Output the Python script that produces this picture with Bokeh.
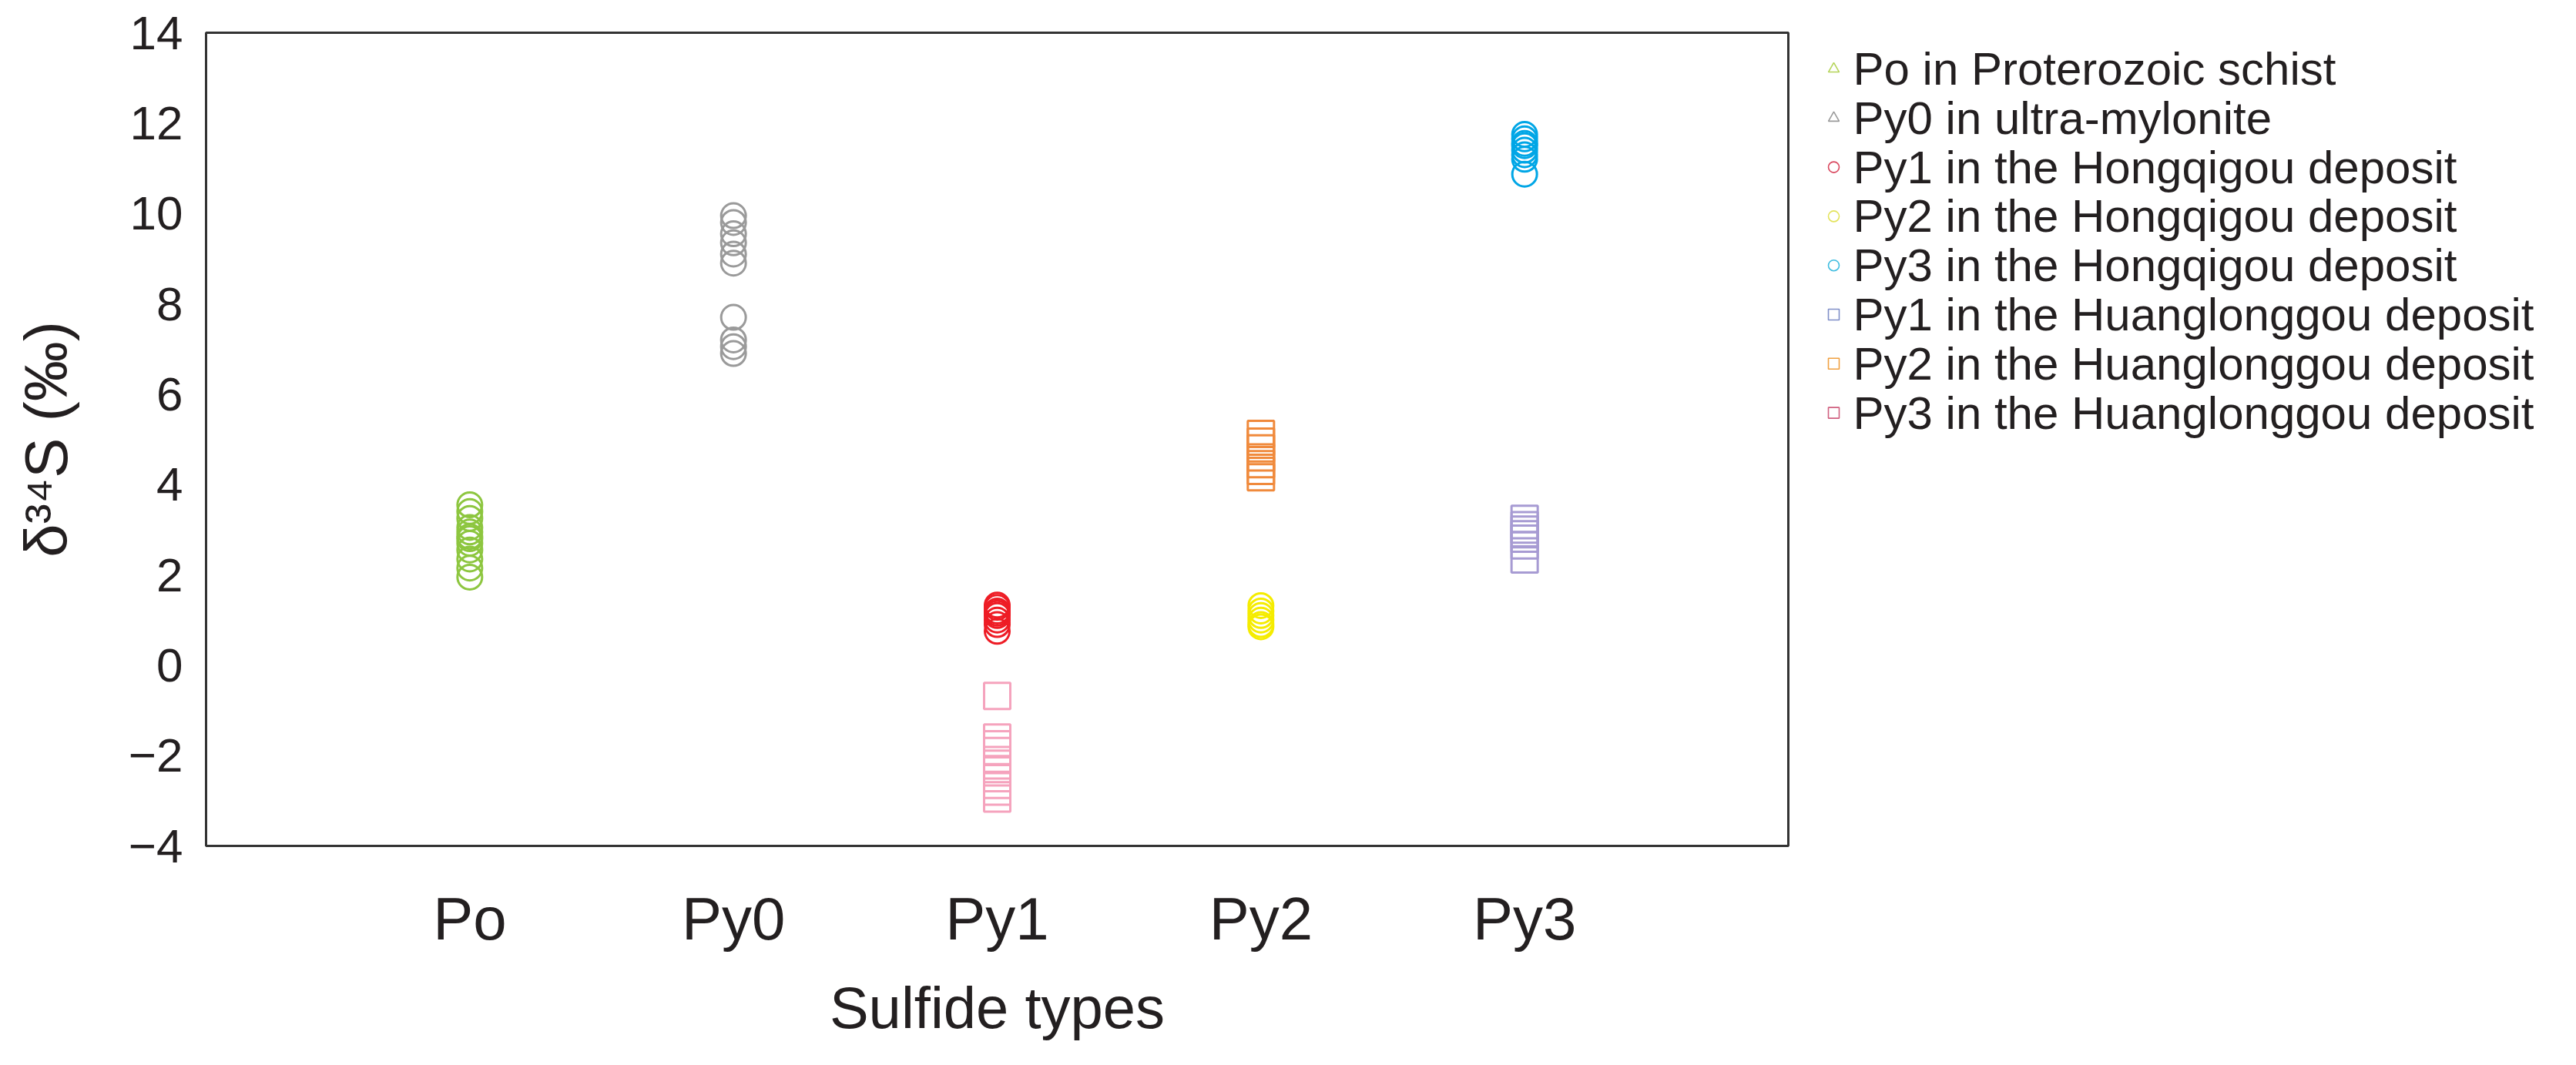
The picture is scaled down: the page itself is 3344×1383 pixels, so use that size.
from bokeh.plotting import figure
from bokeh.models import Range1d, FixedTicker
from bokeh.layouts import row
from bokeh.core.properties import value
from bokeh.embed import file_html
from bokeh.resources import INLINE

# ---- data ----
categories = ["Po", "Py0", "Py1", "Py2", "Py3"]

po_schist = [3.55, 3.4, 3.25, 3.05, 2.95, 2.85, 2.8, 2.7, 2.55, 2.35, 2.15, 1.95]
py0_mylonite = [9.95, 9.8, 9.55, 9.35, 9.1, 8.9, 7.7, 7.2, 7.05, 6.9]
py1_hong = [1.33, 1.28, 1.2, 1.15, 1.1, 1.0, 0.9, 0.75]
py2_hong = [1.32, 1.2, 1.1, 1.0, 0.9, 0.85]
py3_hong = [11.75, 11.65, 11.55, 11.5, 11.4, 11.3, 11.2, 10.87]
py1_huang = [-0.68, -1.6, -1.75, -1.9, -2.1, -2.3, -2.5, -2.65, -2.8, -2.95]
py2_huang = [5.12, 4.95, 4.8, 4.6, 4.45, 4.3, 4.16]
py3_huang = [3.24, 3.1, 3.0, 2.9, 2.8, 2.65, 2.34]

legend_labels = [
    "Po in Proterozoic schist",
    "Py0 in ultra-mylonite",
    "Py1 in the Hongqigou deposit",
    "Py2 in the Hongqigou deposit",
    "Py3 in the Hongqigou deposit",
    "Py1 in the Huanglonggou deposit",
    "Py2 in the Huanglonggou deposit",
    "Py3 in the Huanglonggou deposit",
]
y_ticks = [-4, -2, 0, 2, 4, 6, 8, 10, 12, 14]

FONT = "Liberation Sans"
TXT = "#231f20"

TOTAL_W, TOTAL_H = 3328, 1367
MAIN_W = 2336
FRAME_TOP, FRAME_BOTTOM = 42, 1098

p = figure(width=MAIN_W, height=TOTAL_H, output_backend="svg", toolbar_location=None,
           x_range=Range1d(0, 6), y_range=Range1d(-4, 14),
           min_border_left=267, min_border_right=MAIN_W - 2321,
           min_border_top=FRAME_TOP, min_border_bottom=TOTAL_H - FRAME_BOTTOM)
p.background_fill_color = "white"
p.border_fill_color = "white"
p.xgrid.visible = False
p.ygrid.visible = False
p.outline_line_color = "#333333"
p.outline_line_width = 3

pos = {c: i + 1 for i, c in enumerate(categories)}

def col(cat, vals):
    return [pos[cat]] * len(vals)

series = [
    ("Po", po_schist, "circle", "#8dc63f"),
    ("Py0", py0_mylonite, "circle", "#9a9a9a"),
    ("Py1", py1_hong, "circle", "#ee1c25"),
    ("Py1", py1_huang, "square", "#f5a3bd"),
    ("Py2", py2_hong, "circle", "#f5ec00"),
    ("Py2", py2_huang, "square", "#f08a3c"),
    ("Py3", py3_hong, "circle", "#00a6e6"),
    ("Py3", py3_huang, "square", "#a79bd3"),
]
for cat, vals, mk, c in series:
    sz = 32 if mk == "circle" else 34
    p.scatter(col(cat, vals), vals, marker=mk, size=sz, fill_color=None,
              line_color=c, line_width=3)

# axes
p.xaxis.ticker = FixedTicker(ticks=[pos[c] for c in categories])
p.xaxis.major_label_overrides = {pos[c]: c for c in categories}
p.yaxis.ticker = FixedTicker(ticks=y_ticks)
for ax in (p.xaxis, p.yaxis):
    ax.axis_line_color = None
    ax.major_tick_line_color = None
    ax.minor_tick_line_color = None
    ax.major_tick_in = 0
    ax.major_tick_out = 0
    ax.major_label_text_font = FONT
    ax.major_label_text_color = TXT
    ax.axis_label_text_font = FONT
    ax.axis_label_text_color = TXT
    ax.axis_label_text_font_style = "normal"

p.xaxis.major_label_text_font_size = "78px"
p.xaxis.major_label_standoff = 50
p.xaxis.axis_label = "Sulfide types"
p.xaxis.axis_label_text_font_size = "76px"
p.xaxis.axis_label_standoff = 26

p.yaxis.major_label_text_font_size = "62px"
p.yaxis.major_label_standoff = 30
p.yaxis.axis_label = "δ³⁴S (‰)"
p.yaxis.axis_label_text_font_size = "78px"
p.yaxis.axis_label_standoff = 60

# ---- legend panel (symbols differ from the plotted ones, as in the original) ----
# its frame is aligned with the main frame, so map screen px 1:1 inside it
LEG_W = TOTAL_W - MAIN_W
leg = figure(width=LEG_W, height=TOTAL_H, output_backend="svg", toolbar_location=None,
             x_range=Range1d(0, LEG_W), y_range=Range1d(FRAME_BOTTOM, FRAME_TOP),
             min_border=0, min_border_top=FRAME_TOP,
             min_border_bottom=TOTAL_H - FRAME_BOTTOM)
leg.axis.visible = False
leg.grid.visible = False
leg.outline_line_color = None
leg.background_fill_color = "white"
leg.border_fill_color = "white"

leg_markers = ["triangle", "triangle", "circle", "circle", "circle", "square", "square", "square"]
leg_colors = ["#b5d45a", "#9a9a9a", "#d9475e", "#e3e35a", "#40bde0", "#7f8fc8", "#f0a040", "#d0607f"]
row_y = [89 + 63.8 * i for i in range(len(legend_labels))]
sym_x = 2380 - MAIN_W
txt_x = 2405 - MAIN_W
leg.scatter([sym_x] * len(row_y), row_y, marker=leg_markers, size=14, fill_color=None,
            line_color=leg_colors, line_width=1.6)
leg.text([txt_x] * len(row_y), row_y, text=legend_labels, text_font=value(FONT),
         text_font_size="60px", text_color=TXT, text_baseline="middle", text_align="left")

layout = row(p, leg, spacing=0)
open("out.html", "w").write(file_html(layout, INLINE))
